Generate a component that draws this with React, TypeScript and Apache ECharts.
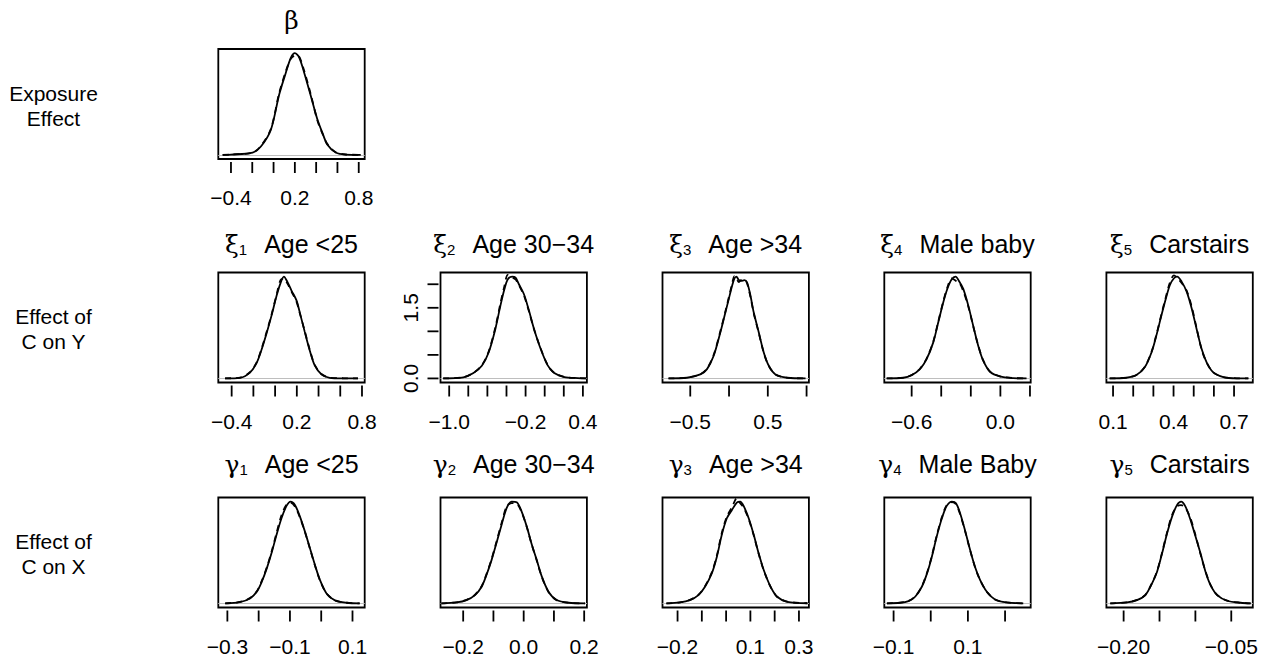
import React, { useEffect, useRef } from 'react';
import * as echarts from 'echarts';

// ---------- data ----------
const betaX = [-0.478, -0.4, -0.197, -0.119, -0.025, 0.053, 0.116, 0.163, 0.2, 0.241, 0.287, 0.35, 0.412, 0.459, 0.506, 0.584, 0.678, 0.819];
const betaSolid = [0.002, 0.009, 0.063, 0.225, 0.676, 1.62, 2.21, 2.61, 2.73, 2.61, 2.21, 1.58, 0.95, 0.59, 0.27, 0.063, 0.009, 0.002];
const betaDashed = [0.002, 0.01, 0.06, 0.24, 0.7, 1.66, 2.25, 2.58, 2.66, 2.63, 2.26, 1.62, 0.92, 0.57, 0.29, 0.07, 0.011, 0.002];

const xi1X = [-0.461, -0.323, -0.232, -0.17, -0.125, -0.079, -0.033, 0.013, 0.05, 0.081, 0.111, 0.151, 0.197, 0.227, 0.273, 0.319, 0.365, 0.426, 0.503, 0.626, 0.763];
const xi1Solid = [0.002, 0.017, 0.152, 0.406, 0.745, 1.168, 1.634, 2.142, 2.48, 2.65, 2.523, 2.286, 2.032, 1.719, 1.211, 0.728, 0.339, 0.11, 0.017, 0.003, 0.002];
const xi1Dashed = [0.002, 0.02, 0.16, 0.42, 0.77, 1.2, 1.66, 2.17, 2.56, 2.6, 2.48, 2.26, 2.0, 1.7, 1.23, 0.75, 0.35, 0.115, 0.02, 0.004, 0.002];

const xi2X = [-1.063, -0.852, -0.746, -0.658, -0.587, -0.517, -0.464, -0.422, -0.386, -0.341, -0.305, -0.27, -0.217, -0.164, -0.111, -0.041, 0.03, 0.1, 0.206, 0.347, 0.435];
const xi2Solid = [0.001, 0.021, 0.113, 0.269, 0.551, 1.046, 1.541, 1.894, 2.106, 2.163, 2.141, 2.0, 1.788, 1.435, 1.046, 0.622, 0.283, 0.113, 0.028, 0.007, 0.001];
const xi2Dashed = [0.001, 0.024, 0.12, 0.28, 0.57, 1.08, 1.59, 1.96, 2.2, 2.15, 2.1, 1.98, 1.76, 1.42, 1.04, 0.63, 0.29, 0.118, 0.03, 0.008, 0.001];

const xi3X = [-0.78, -0.543, -0.371, -0.284, -0.198, -0.112, -0.047, -0.004, 0.039, 0.069, 0.095, 0.125, 0.155, 0.198, 0.233, 0.276, 0.319, 0.384, 0.448, 0.513, 0.599, 0.75, 0.987];
const xi3Solid = [0.001, 0.014, 0.081, 0.189, 0.46, 0.934, 1.339, 1.61, 1.88, 2.029, 2.07, 2.002, 1.982, 1.996, 1.949, 1.684, 1.339, 0.934, 0.528, 0.257, 0.081, 0.014, 0.001];
const xi3Dashed = [0.001, 0.016, 0.085, 0.2, 0.48, 0.96, 1.36, 1.64, 1.92, 2.08, 2.03, 1.96, 2.0, 2.01, 1.93, 1.66, 1.32, 0.92, 0.52, 0.25, 0.08, 0.015, 0.001];

const xi4X = [-0.769, -0.656, -0.6, -0.544, -0.499, -0.454, -0.42, -0.386, -0.359, -0.33, -0.303, -0.278, -0.251, -0.217, -0.184, -0.15, -0.116, -0.07, -0.003, 0.087, 0.177];
const xi4Solid = [0.001, 0.025, 0.124, 0.348, 0.721, 1.342, 2.087, 2.833, 3.33, 3.678, 3.79, 3.604, 3.33, 2.709, 1.963, 1.218, 0.659, 0.248, 0.075, 0.012, 0.001];
const xi4Dashed = [0.001, 0.028, 0.13, 0.36, 0.74, 1.37, 2.12, 2.87, 3.38, 3.72, 3.64, 3.56, 3.25, 2.68, 1.95, 1.23, 0.67, 0.255, 0.078, 0.013, 0.001];

const xi5X = [0.083, 0.166, 0.216, 0.257, 0.291, 0.315, 0.34, 0.362, 0.382, 0.402, 0.418, 0.44, 0.465, 0.49, 0.514, 0.539, 0.564, 0.597, 0.647, 0.713, 0.771];
const xi5Solid = [0.002, 0.033, 0.167, 0.551, 1.303, 2.138, 3.14, 3.975, 4.643, 4.977, 5.06, 4.81, 4.309, 3.474, 2.472, 1.47, 0.802, 0.301, 0.067, 0.005, 0.002];
const xi5Dashed = [0.002, 0.036, 0.175, 0.57, 1.33, 2.18, 3.19, 4.05, 4.76, 5.12, 5.0, 4.74, 4.36, 3.56, 2.52, 1.44, 0.79, 0.3, 0.07, 0.006, 0.002];

const gam1X = [-0.307, -0.26, -0.228, -0.206, -0.19, -0.174, -0.159, -0.143, -0.127, -0.111, -0.098, -0.084, -0.068, -0.052, -0.036, -0.02, -0.004, 0.017, 0.044, 0.081, 0.123];
const gam1Solid = [0.005, 0.101, 0.378, 0.881, 1.637, 2.644, 3.777, 5.162, 6.421, 7.353, 7.68, 7.428, 6.547, 5.414, 4.155, 2.896, 1.763, 0.755, 0.227, 0.05, 0.005];
const gam1Dashed = [0.005, 0.11, 0.4, 0.92, 1.7, 2.72, 3.88, 5.3, 6.65, 7.45, 7.6, 7.3, 6.48, 5.38, 4.12, 2.86, 1.74, 0.75, 0.23, 0.052, 0.005];

const gam2X = [-0.272, -0.222, -0.189, -0.161, -0.139, -0.123, -0.106, -0.09, -0.073, -0.056, -0.04, -0.023, -0.007, 0.01, 0.027, 0.043, 0.06, 0.082, 0.109, 0.148, 0.203];
const gam2Solid = [0.004, 0.071, 0.235, 0.588, 1.176, 2.0, 3.059, 4.235, 5.529, 6.706, 7.153, 7.106, 6.471, 5.412, 4.118, 3.059, 1.882, 0.824, 0.235, 0.047, 0.004];
const gam2Dashed = [0.004, 0.075, 0.25, 0.61, 1.21, 2.06, 3.12, 4.33, 5.65, 6.82, 7.05, 7.0, 6.42, 5.38, 4.1, 3.03, 1.86, 0.81, 0.232, 0.048, 0.004];

const gam3X = [-0.246, -0.19, -0.149, -0.114, -0.087, -0.059, -0.038, -0.018, 0.003, 0.024, 0.044, 0.058, 0.072, 0.093, 0.114, 0.134, 0.155, 0.183, 0.21, 0.252, 0.335];
const gam3Solid = [0.004, 0.054, 0.181, 0.452, 0.904, 1.627, 2.53, 3.705, 4.608, 5.06, 5.458, 5.512, 5.277, 4.608, 3.705, 2.711, 1.807, 0.904, 0.361, 0.09, 0.01];
const gam3Dashed = [0.004, 0.058, 0.19, 0.47, 0.93, 1.68, 2.6, 3.8, 4.7, 5.2, 5.7, 5.42, 5.2, 4.56, 3.67, 2.69, 1.79, 0.9, 0.36, 0.092, 0.01];

const gam4X = [-0.118, -0.082, -0.06, -0.042, -0.024, -0.01, 0.003, 0.016, 0.03, 0.043, 0.057, 0.068, 0.079, 0.092, 0.106, 0.119, 0.133, 0.151, 0.173, 0.204, 0.249];
const gam4Solid = [0.005, 0.058, 0.202, 0.576, 1.441, 2.594, 4.035, 5.764, 7.349, 8.416, 8.79, 8.646, 7.782, 6.341, 4.611, 3.17, 2.017, 1.009, 0.346, 0.086, 0.01];
const gam4Dashed = [0.005, 0.062, 0.21, 0.6, 1.48, 2.65, 4.1, 5.85, 7.45, 8.48, 8.74, 8.56, 7.7, 6.29, 4.58, 3.15, 2.0, 1.0, 0.345, 0.088, 0.01];

const gam5X = [-0.2186, -0.1953, -0.1814, -0.1697, -0.1604, -0.1534, -0.1464, -0.1394, -0.1325, -0.1255, -0.1199, -0.1138, -0.1068, -0.0998, -0.0929, -0.0859, -0.0789, -0.0696, -0.0556, -0.037, -0.023];
const gam5Solid = [0.01, 0.172, 0.574, 1.434, 3.443, 5.451, 8.607, 12.05, 14.92, 16.93, 17.5, 16.64, 14.35, 11.48, 8.607, 5.451, 3.156, 1.434, 0.459, 0.115, 0.01];
const gam5Dashed = [0.01, 0.18, 0.6, 1.48, 3.52, 5.56, 8.75, 12.25, 15.2, 16.7, 16.9, 16.4, 14.6, 11.7, 8.5, 5.5, 3.2, 1.45, 0.465, 0.118, 0.01];

// axis ticks / labels
const betaTicks = [-0.4, -0.2, 0, 0.2, 0.4, 0.6, 0.8];
const betaLabels = [-0.4, 0.2, 0.8];
const xi1Ticks = [-0.4, -0.2, 0, 0.2, 0.4, 0.6, 0.8];
const xi1Labels = [-0.4, 0.2, 0.8];
const xi2Ticks = [-1.0, -0.8, -0.6, -0.4, -0.2, 0, 0.2, 0.4];
const xi2Labels = [-1.0, -0.2, 0.4];
const xi2YTicks = [0, 0.5, 1.0, 1.5, 2.0];
const xi2YLabels = [0, 1.5];
const xi3Ticks = [-0.5, 0, 0.5, 1.0];
const xi3Labels = [-0.5, 0.5];
const xi4Ticks = [-0.6, -0.4, -0.2, 0, 0.2];
const xi4Labels = [-0.6, 0];
const xi5Ticks = [0.1, 0.2, 0.3, 0.4, 0.5, 0.6, 0.7];
const xi5Labels = [0.1, 0.4, 0.7];
const gam1Ticks = [-0.3, -0.2, -0.1, 0, 0.1];
const gam1Labels = [-0.3, -0.1, 0.1];
const gam2Ticks = [-0.2, -0.1, 0, 0.1, 0.2];
const gam2Labels = [-0.2, 0, 0.2];
const gam3Ticks = [-0.2, -0.1, 0, 0.1, 0.2, 0.3];
const gam3Labels = [-0.2, 0.1, 0.3];
const gam4Ticks = [-0.1, 0, 0.1, 0.2];
const gam4Labels = [-0.1, 0.1];
const gam5Ticks = [-0.2, -0.15, -0.1, -0.05];
const gam5Labels = [-0.2, -0.05];

// x-axis limits of each panel (plot region extent)
const xLimits: Record<string, [number, number]> = {
  beta: [-0.519, 0.856],
  xi1: [-0.523, 0.825],
  xi2: [-1.091, 0.442],
  xi3: [-0.858, 1.03],
  xi4: [-0.785, 0.205],
  xi5: [0.067, 0.793],
  gam1: [-0.329, 0.139],
  gam2: [-0.275, 0.209],
  gam3: [-0.262, 0.341],
  gam4: [-0.125, 0.269],
  gam5: [-0.224, -0.02],
};

const rowLabels = ['Exposure\nEffect', 'Effect of\nC on Y', 'Effect of\nC on X'];

// ---------- layout ----------
const FONT = '"Liberation Sans", Arial, Helvetica, sans-serif';
const GREEK = '"DejaVu Serif", "Liberation Serif", serif';
const COL_LEFT = [218.3, 440.5, 662.5, 884.3, 1106.4];
const ROW_TOP = [49, 272.5, 497.5];
const TITLE_Y = [20, 244, 464];
const BOX_W = 146.4;
const BOX_H = 110;
const LW = 1.8;

type Panel = {
  key: string; row: number; col: number; x: number[]; solid: number[]; dashed: number[];
  ticks: number[]; labels: number[]; dec: number; greek: string; sub: string; name: string;
  yTicks?: number[]; yLabels?: number[];
};

const panels: Panel[] = [
  { key: 'beta', row: 0, col: 0, x: betaX, solid: betaSolid, dashed: betaDashed, ticks: betaTicks, labels: betaLabels, dec: 1, greek: 'β', sub: '', name: '' },
  { key: 'xi1', row: 1, col: 0, x: xi1X, solid: xi1Solid, dashed: xi1Dashed, ticks: xi1Ticks, labels: xi1Labels, dec: 1, greek: 'ξ', sub: '1', name: 'Age <25' },
  { key: 'xi2', row: 1, col: 1, x: xi2X, solid: xi2Solid, dashed: xi2Dashed, ticks: xi2Ticks, labels: xi2Labels, dec: 1, greek: 'ξ', sub: '2', name: 'Age 30−34', yTicks: xi2YTicks, yLabels: xi2YLabels },
  { key: 'xi3', row: 1, col: 2, x: xi3X, solid: xi3Solid, dashed: xi3Dashed, ticks: xi3Ticks, labels: xi3Labels, dec: 1, greek: 'ξ', sub: '3', name: 'Age >34' },
  { key: 'xi4', row: 1, col: 3, x: xi4X, solid: xi4Solid, dashed: xi4Dashed, ticks: xi4Ticks, labels: xi4Labels, dec: 1, greek: 'ξ', sub: '4', name: 'Male baby' },
  { key: 'xi5', row: 1, col: 4, x: xi5X, solid: xi5Solid, dashed: xi5Dashed, ticks: xi5Ticks, labels: xi5Labels, dec: 1, greek: 'ξ', sub: '5', name: 'Carstairs' },
  { key: 'gam1', row: 2, col: 0, x: gam1X, solid: gam1Solid, dashed: gam1Dashed, ticks: gam1Ticks, labels: gam1Labels, dec: 1, greek: 'γ', sub: '1', name: 'Age <25' },
  { key: 'gam2', row: 2, col: 1, x: gam2X, solid: gam2Solid, dashed: gam2Dashed, ticks: gam2Ticks, labels: gam2Labels, dec: 1, greek: 'γ', sub: '2', name: 'Age 30−34' },
  { key: 'gam3', row: 2, col: 2, x: gam3X, solid: gam3Solid, dashed: gam3Dashed, ticks: gam3Ticks, labels: gam3Labels, dec: 1, greek: 'γ', sub: '3', name: 'Age >34' },
  { key: 'gam4', row: 2, col: 3, x: gam4X, solid: gam4Solid, dashed: gam4Dashed, ticks: gam4Ticks, labels: gam4Labels, dec: 1, greek: 'γ', sub: '4', name: 'Male Baby' },
  { key: 'gam5', row: 2, col: 4, x: gam5X, solid: gam5Solid, dashed: gam5Dashed, ticks: gam5Ticks, labels: gam5Labels, dec: 2, greek: 'γ', sub: '5', name: 'Carstairs' },
];

const fmt = (v: number, dec: number) => {
  const s = Math.abs(v).toFixed(dec);
  return (v < -1e-9 ? '−' : '') + s;
};

function buildOption() {
  const grid: any[] = [];
  const xAxis: any[] = [];
  const yAxis: any[] = [];
  const series: any[] = [];
  const graphic: any[] = [];

  panels.forEach((p, i) => {
    const left = COL_LEFT[p.col];
    const top = ROW_TOP[p.row];
    grid.push({
      left, top, width: BOX_W, height: BOX_H,
      show: true, borderColor: '#000', borderWidth: LW, backgroundColor: 'transparent',
      containLabel: false, outerBoundsMode: 'none',
    });
    const [xmin, xmax] = xLimits[p.key];
    xAxis.push({
      gridIndex: i, type: 'value', min: xmin, max: xmax, offset: 3,
      axisLine: { show: false },
      axisTick: { show: false },
      axisLabel: {
        show: true, customValues: p.labels, margin: 25, fontSize: 21, fontFamily: FONT, color: '#000',
        formatter: (v: number) => fmt(v, p.dec),
      },
      splitLine: { show: false },
    });
    const M = Math.max(...p.solid);
    const ymin = -0.04 * M;
    const ymax = 1.04 * M;
    yAxis.push({
      gridIndex: i, type: 'value', min: ymin, max: ymax, offset: 2,
      axisLine: { show: false },
      axisTick: { show: false },
      axisLabel: p.yLabels
        ? { show: true, customValues: p.yLabels, rotate: 90, margin: 18, fontSize: 21, fontFamily: FONT, color: '#000', formatter: (v: number) => fmt(v, 1) }
        : { show: false },
      splitLine: { show: false },
    });
    series.push({
      type: 'line', xAxisIndex: i, yAxisIndex: i, z: 2,
      data: p.x.map((x, j) => [x, p.dashed[j]]),
      showSymbol: false, smooth: 0.3, clip: true, silent: true,
      lineStyle: { color: '#000', width: LW, type: [6, 5] },
      markLine: {
        silent: true, symbol: ['none', 'none'], z: 1,
        label: { show: false },
        lineStyle: { color: '#bebebe', width: 1, type: 'solid' },
        data: [{ yAxis: 0 }],
      },
    });
    series.push({
      type: 'line', xAxisIndex: i, yAxisIndex: i, z: 3,
      data: p.x.map((x, j) => [x, p.solid[j]]),
      showSymbol: false, smooth: 0.3, clip: true, silent: true,
      lineStyle: { color: '#000', width: LW, type: 'solid' },
    });
    // x-axis tick marks, placed through the axis scale
    series.push({
      type: 'custom', xAxisIndex: i, yAxisIndex: i, z: 4, clip: false, silent: true,
      data: p.ticks.map((t) => [t, ymin]),
      renderItem: (_params: any, api: any) => {
        const pt = api.coord([api.value(0), api.value(1)]);
        return {
          type: 'line',
          shape: { x1: pt[0], y1: pt[1] + 3, x2: pt[0], y2: pt[1] + 14 },
          style: { stroke: '#000', lineWidth: LW },
        };
      },
    });
    if (p.yTicks) {
      series.push({
        type: 'custom', xAxisIndex: i, yAxisIndex: i, z: 4, clip: false, silent: true,
        data: p.yTicks.map((t) => [xmin, t]),
        renderItem: (_params: any, api: any) => {
          const pt = api.coord([api.value(0), api.value(1)]);
          return {
            type: 'line',
            shape: { x1: pt[0] - 2, y1: pt[1], x2: pt[0] - 13, y2: pt[1] },
            style: { stroke: '#000', lineWidth: LW },
          };
        },
      });
    }

    const text = p.sub ? `{g|${p.greek}}{s|${p.sub}}{t|${p.name}}` : `{g|${p.greek}}`;
    graphic.push({
      type: 'text', x: left + BOX_W / 2, y: TITLE_Y[p.row], silent: true,
      style: {
        text, align: 'center', verticalAlign: 'middle', fill: '#000',
        rich: {
          g: { fontFamily: GREEK, fontSize: 25, lineHeight: 26, fill: '#000' },
          s: { fontFamily: FONT, fontSize: 15, lineHeight: 15, verticalAlign: 'bottom', fill: '#000' },
          t: { fontFamily: FONT, fontSize: 25, lineHeight: 26, padding: [0, 0, 0, 17], fill: '#000' },
        },
      },
    });
  });

  rowLabels.forEach((t, r) => {
    graphic.push({
      type: 'text', x: 53.5, y: ROW_TOP[r] + BOX_H / 2 + 1.5, silent: true,
      style: {
        text: t, align: 'center', verticalAlign: 'middle', fill: '#000',
        fontFamily: FONT, fontSize: 21, lineHeight: 25,
      },
    });
  });

  return {
    animation: false,
    backgroundColor: '#fff',
    grid, xAxis, yAxis, series, graphic,
  };
}

export default function App() {
  const ref = useRef<HTMLDivElement>(null);
  useEffect(() => {
    if (!ref.current) return;
    const chart = echarts.init(ref.current, undefined, { renderer: 'svg' });
    chart.setOption(buildOption() as any);
    return () => chart.dispose();
  }, []);
  return (
    <div
      ref={ref}
      style={{ position: 'fixed', left: 0, top: 0, width: 1276, height: 662, background: '#fff' }}
    />
  );
}
